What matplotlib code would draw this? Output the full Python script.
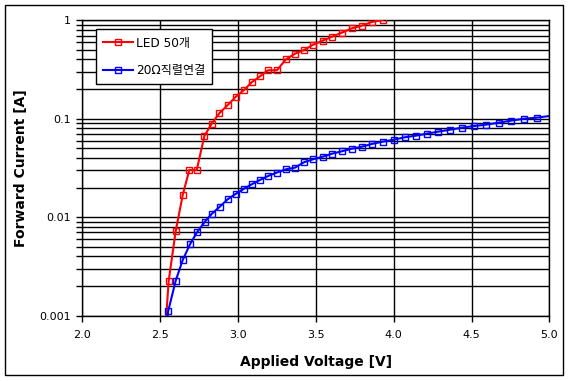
import matplotlib
matplotlib.use("Agg")
import matplotlib.pyplot as plt
from matplotlib.ticker import LogLocator, FixedLocator, FixedFormatter, NullFormatter
from matplotlib.patches import Rectangle

plt.rcParams['font.family'] = ['DejaVu Sans', 'Noto Sans CJK KR']

# Data
red_v = [2.535, 2.555, 2.600, 2.645, 2.687, 2.735, 2.784, 2.830, 2.880, 2.934, 2.987,
         3.039, 3.088, 3.141, 3.193, 3.250, 3.308, 3.366, 3.424, 3.482, 3.544, 3.604,
         3.666, 3.730, 3.794, 3.859, 3.929]
red_i = [0.0008, 0.00227, 0.00726, 0.0168, 0.0302, 0.0302, 0.0669, 0.0886, 0.1137, 0.138, 0.168,
         0.196, 0.235, 0.270, 0.311, 0.311, 0.402, 0.458, 0.499, 0.565, 0.621, 0.682,
         0.748, 0.829, 0.881, 0.961, 1.01]

blue_v = [2.540, 2.552, 2.600, 2.645, 2.692, 2.737, 2.786, 2.833, 2.883, 2.934, 2.985,
          3.039, 3.088, 3.141, 3.195, 3.249, 3.308, 3.366, 3.424, 3.482, 3.544, 3.604,
          3.668, 3.732, 3.796, 3.860, 3.931, 4.002, 4.072, 4.143, 4.214, 4.285, 4.364,
          4.439, 4.518, 4.593, 4.674, 4.753, 4.837, 4.918, 5.015]
blue_i = [0.00081, 0.00112, 0.00227, 0.00368, 0.00532, 0.00704, 0.00896, 0.01088, 0.0128, 0.01523, 0.01725,
          0.0195, 0.0216, 0.0239, 0.0263, 0.0284, 0.0307, 0.0319, 0.0362, 0.0388, 0.0412, 0.0442,
          0.0468, 0.0497, 0.0521, 0.0555, 0.0586, 0.0614, 0.0649, 0.0674, 0.0706, 0.0740, 0.0775,
          0.0812, 0.0845, 0.0871, 0.0913, 0.0957, 0.1002, 0.1026, 0.1075]

series_names = ["LED 50개", "20Ω직렬연결"]
x_ticks = [2.0, 2.5, 3.0, 3.5, 4.0, 4.5, 5.0]
x_labels = ["2.0", "2.5", "3.0", "3.5", "4.0", "4.5", "5.0"]
y_ticks = [0.001, 0.01, 0.1, 1]
y_labels = ["0.001", "0.01", "0.1", "1"]

fig = plt.figure(figsize=(5.69, 3.81), dpi=100)
ax = fig.add_axes([0.1446, 0.1714, 0.9657 - 0.1446, 0.9467 - 0.1714])

ax.plot(red_v, red_i, color='#ff0000', lw=1.5, marker='s', ms=5, mfc='none',
        mec='#ff0000', mew=1.0, label=series_names[0], zorder=3)
ax.plot(blue_v, blue_i, color='#0000ff', lw=1.5, marker='s', ms=5, mfc='none',
        mec='#0000ff', mew=1.0, label=series_names[1], zorder=3,
        markevery=list(range(len(blue_v) - 1)))

ax.set_yscale('log')
ax.set_xlim(2.0, 5.0)
ax.set_ylim(0.001, 1)
ax.xaxis.set_major_locator(FixedLocator(x_ticks))
ax.xaxis.set_major_formatter(FixedFormatter(x_labels))
ax.yaxis.set_major_locator(FixedLocator(y_ticks))
ax.yaxis.set_major_formatter(FixedFormatter(y_labels))
ax.yaxis.set_minor_locator(LogLocator(base=10, subs=range(2, 10)))
ax.yaxis.set_minor_formatter(NullFormatter())

ax.grid(True, which='major', axis='both', color='black', lw=1.0)
ax.grid(True, which='minor', axis='y', color='black', lw=1.0)
ax.set_axisbelow(True)
for s in ax.spines.values():
    s.set_color('black')
    s.set_linewidth(1.0)

ax.tick_params(axis='both', which='major', direction='out', length=4, width=1,
               color='black', labelsize=8, labelcolor='black', pad=4)
ax.tick_params(axis='y', which='minor', direction='out', length=4, width=1, color='black')
ax.tick_params(axis='x', which='major', pad=6)

ax.set_xlabel("Applied Voltage [V]", fontsize=10, fontweight='bold', labelpad=11)
ax.set_ylabel("Forward Current [A]", fontsize=10, fontweight='bold', labelpad=8)

leg = ax.legend(loc='upper left', bbox_to_anchor=(13.5 / 467, 1 - 9 / 295.4),
                borderaxespad=0, frameon=True, fancybox=False, edgecolor='black',
                framealpha=1, borderpad=0.6, labelspacing=1.2, handlelength=2.5,
                handletextpad=0.2,
                prop={'family': ['DejaVu Sans', 'Noto Sans CJK KR'], 'size': 8.7})
leg.get_frame().set_linewidth(1.0)

fig.patches.append(Rectangle((5 / 569, 1 - 375 / 381), 558 / 569, 370 / 381,
                             transform=fig.transFigure, fill=False, edgecolor='black', lw=1.0))

fig.savefig("out.png", dpi=100)
